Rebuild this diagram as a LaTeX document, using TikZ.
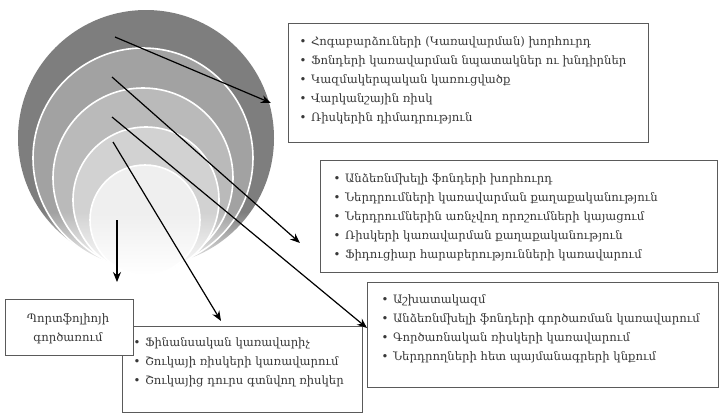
\documentclass[tikz,border=0pt]{standalone}
\usepackage{fontspec}
\newfontfamily\armfont{DejaVu Serif}
\usetikzlibrary{arrows.meta,fadings}
\definecolor{ringA}{HTML}{7E7E7E}
\definecolor{ringB}{HTML}{A2A2A2}
\definecolor{ringC}{HTML}{BABABA}
\definecolor{ringD}{HTML}{D2D2D2}
\definecolor{ringE}{HTML}{EFEFEF}
\definecolor{boxline}{HTML}{5A5A5A}
\definecolor{txtc}{HTML}{383838}
\tikzfading[name=fadeup, top color=transparent!100, bottom color=transparent!0]
\tikzset{
  ring/.style={draw=white, line width=1.6pt},
  boxframe/.style={draw=boxline, line width=1.3pt, fill=white, inner sep=0pt, anchor=north west},
  listtxt/.style={anchor=west, align=left, inner sep=0pt, text=txtc,
    font={\armfont\fontsize{11.6}{19}\selectfont}},
  conn/.style={draw=black, line width=1.2pt, -{Stealth[length=10pt,width=8pt]}}
}
\newcommand{\bul}{\textbullet\hspace{4.5pt}}
\begin{document}
\begin{tikzpicture}[x=1pt,y=-1pt]
\useasboundingbox (0,0) rectangle (723,416);
% nested circles
\fill[ringA] (146,138) circle[radius=128];
\filldraw[ring, fill=ringB] (143,158) circle[radius=110];
\filldraw[ring, fill=ringC] (143,178) circle[radius=90];
\filldraw[ring, fill=ringD] (146,200) circle[radius=73];
\filldraw[ring, fill=ringE] (145,220) circle[radius=55];
\fill[white, path fading=fadeup] (10,212) rectangle (285,274);
\fill[white] (10,274) rectangle (285,280);
% boxes
\node[boxframe, minimum width=360pt, minimum height=119pt] (b1) at (288,23) {};
\node[boxframe, minimum width=397pt, minimum height=112pt] (b2) at (320,160) {};
\node[boxframe, minimum width=351pt, minimum height=105pt] (b3) at (367,282) {};
\node[boxframe, minimum width=240pt, minimum height=86pt] (b5) at (122,326) {};
\node[boxframe, minimum width=128pt, minimum height=56pt] (b4) at (5,299) {};
% texts
\node[listtxt] (t1) at (299.5,80.5) {\bul Հոգաբարձուների (Կառավարման) խորհուրդ\\
\bul Ֆոնդերի կառավարման նպատակներ ու խնդիրներ\\
\bul Կազմակերպական կառուցվածք\\
\bul Վարկանշային ռիսկ\\
\bul Ռիսկերին դիմադրություն};
\node[listtxt] (t2) at (333.5,217.5) {\bul Անձեռնմխելի ֆոնդերի խորհուրդ\\
\bul Ներդրումների կառավարման քաղաքականություն\\
\bul Ներդրումներին առնչվող որոշումների կայացում\\
\bul Ռիսկերի կառավարման քաղաքականություն\\
\bul Ֆիդուցիար հարաբերությունների կառավարում};
\node[listtxt] (t3) at (381.5,329) {\bul Աշխատակազմ\\
\bul Անձեռնմխելի ֆոնդերի գործառման կառավարում\\
\bul Գործառնական ռիսկերի կառավարում\\
\bul Ներդրողների հետ պայմանագրերի կնքում};
\node[listtxt] (t5) at (133.5,362) {\bul Ֆինանսական կառավարիչ\\
\bul Շուկայի ռիսկերի կառավարում\\
\bul Շուկայից դուրս գտնվող ռիսկեր};
\node[listtxt, anchor=center, align=center] (t4) at (68,329) {Պորտֆոլիոյի\\գործառում};
% connectors
\coordinate (s1) at (115,37);  \coordinate (e1) at (271,103);
\coordinate (s2) at (112,77);  \coordinate (e2) at (300,243);
\coordinate (s3) at (112,117); \coordinate (e3) at (367,328);
\coordinate (s4) at (113,142); \coordinate (e4) at (221,321);
\coordinate (s5) at (117,220); \coordinate (e5) at (117,282);
\draw[conn] (s1) -- (e1);
\draw[conn] (s2) -- (e2);
\draw[conn] (s3) -- (e3);
\draw[conn] (s4) -- (e4);
\draw[conn] (s5) -- (e5);
\end{tikzpicture}
\end{document}
